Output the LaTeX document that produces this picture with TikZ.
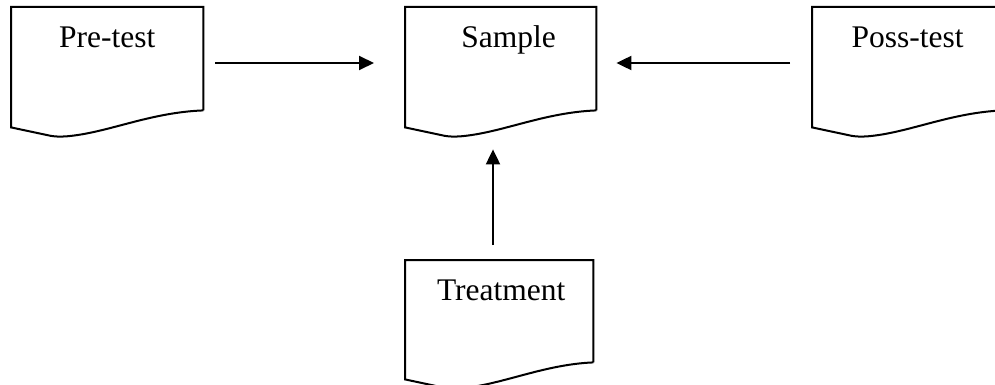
\documentclass[tikz,border=0pt]{standalone}
\usepackage{fontspec}
\setmainfont{Liberation Serif}
\usetikzlibrary{calc,arrows.meta}
\newcommand\docwave[1]{%
 \draw[docline] (#1.south east) -- (#1.north east) -- (#1.north west) -- ($(#1.south west)+(0,17)$) -- ($(#1.south west)+(40,25.5)$) .. controls ($(#1.south west)+(46,26.5)$) and ($(#1.south west)+(52,26.4)$) .. ($(#1.south west)+(60,25.5)$) .. controls ($(#1.south west)+(100,21)$) and ($(#1.south west)+(140,2)$) .. (#1.south east);}
\tikzset{
 docbox/.style={minimum width=192pt, minimum height=103pt, inner xsep=0pt, inner ysep=20pt, text height=20pt, text depth=43pt, anchor=north west, font=\fontsize{31.5}{36}\selectfont},
 docline/.style={line width=2pt, line join=miter},
 flow/.style={line width=2pt, -{Triangle[length=15pt,width=14pt]}}
}
\begin{document}
\begin{tikzpicture}[x=1pt,y=-1pt]
\useasboundingbox (0,0) rectangle (995,385);
\clip (0,0) rectangle (995,385);
\node[docbox] (pre) at (11,7) {Pre-test};
\node[docbox, minimum width=191pt] (sample) at (405,7) {\hspace*{16pt}Sample};
\node[docbox, minimum width=191pt] (poss) at (812,7) {Poss-test};
\node[docbox, minimum width=188pt, minimum height=102pt, text depth=42pt] (treat) at (405,260) {\hspace*{4pt}Treatment};
\docwave{pre}
\docwave{sample}
\docwave{poss}
\docwave{treat}
\draw[flow] ($(pre.north east)+(12,56)$) -- ($(sample.north west)+(-31,56)$);
\draw[flow] ($(poss.north west)+(-22,56)$) -- ($(sample.north east)+(20,56)$);
\draw[flow] ($(treat.north west)+(88,-15)$) -- ($(sample.south west)+(88,39)$);
\end{tikzpicture}
\end{document}
